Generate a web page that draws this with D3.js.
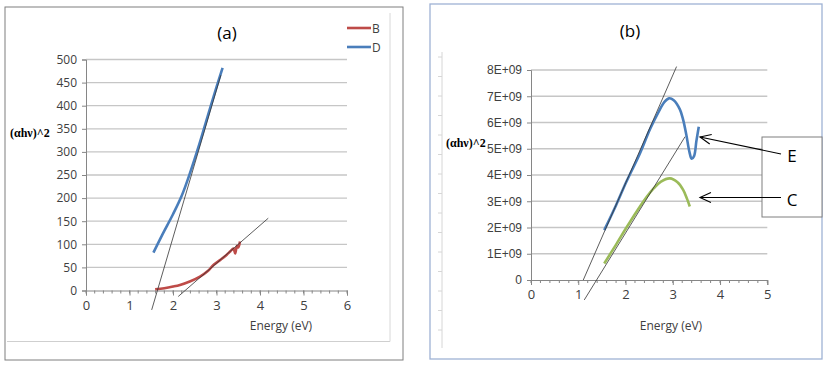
<!DOCTYPE html>
<html>
<head>
<meta charset="utf-8">
<script src="https://cdn.jsdelivr.net/npm/d3@7"></script>
<style>
  body { margin: 0; background: #fff; }
  text { font-family: "Open Sans", "Liberation Sans", sans-serif; }
</style>
</head>
<body>
<svg id="chart" width="827" height="366"></svg>
<script>
// ---- panel (a) data ----
const aXTicks = [0, 1, 2, 3, 4, 5, 6];
const aYTicks = [0, 50, 100, 150, 200, 250, 300, 350, 400, 450, 500];
const dEnergy = [1.55, 1.75, 2.0, 2.2, 2.39, 2.6, 2.8, 3.0, 3.14];
const dValues = [82, 120, 165, 205, 254, 315, 378, 440, 482];
const bEnergy = [1.59, 1.8, 2.0, 2.16, 2.4, 2.62, 2.8, 2.93, 3.1, 3.23, 3.32, 3.39, 3.43, 3.47, 3.5, 3.54];
const bValues = [2.6, 5, 8.5, 12, 20, 30, 42, 55, 67, 77, 85, 91, 80, 97, 93, 106];
const dFitE = [1.51, 3.1];
const dFitV = [-42, 466];
const bFitE = [2.12, 4.19];
const bFitV = [-13, 156.5];

// ---- panel (b) data ----
const bXTicks = [0, 1, 2, 3, 4, 5];
const bYTicks = [0, 1e9, 2e9, 3e9, 4e9, 5e9, 6e9, 7e9, 8e9];
const bYLabels = ['0', '1E+09', '2E+09', '3E+09', '4E+09', '5E+09', '6E+09', '7E+09', '8E+09'];
const eEnergy = [1.55, 1.8, 2.02, 2.3, 2.52, 2.7, 2.82, 2.92, 3.02, 3.15, 3.22, 3.29, 3.35, 3.4, 3.45, 3.5, 3.55];
const eValues = [1.9e9, 2.85e9, 3.75e9, 4.8e9, 5.75e9, 6.4e9, 6.78e9, 6.92e9, 6.85e9, 6.5e9, 6.1e9, 5.5e9, 4.9e9, 4.62e9, 4.72e9, 5.3e9, 5.84e9];
const cEnergy = [1.55, 1.8, 2.02, 2.25, 2.45, 2.6, 2.75, 2.94, 3.1, 3.22, 3.3, 3.36];
const cValues = [0.63e9, 1.35e9, 2.0e9, 2.65e9, 3.17e9, 3.5e9, 3.75e9, 3.87e9, 3.72e9, 3.43e9, 3.1e9, 2.8e9];
const eFitE = [1.106, 3.08];
const eFitV = [0, 8.13e9];
const cFitE = [1.127, 3.26];
const cFitV = [-0.76e9, 5.46e9];

const svg = d3.select('#chart');
const gridColor = '#c6c6c6';
const axisColor = '#868686';
const labelColor = '#404040';

function drawPanel(cfg) {
  const x = d3.scaleLinear().domain(cfg.xDomain).range(cfg.xRange);
  const y = d3.scaleLinear().domain(cfg.yDomain).range(cfg.yRange);
  const g = svg.append('g');

  // gridlines
  g.selectAll('.grid')
    .data(cfg.yTicks.slice(1))
    .enter()
    .append('line')
    .attr('x1', cfg.xRange[0]).attr('x2', cfg.xRange[1])
    .attr('y1', d => y(d)).attr('y2', d => y(d))
    .attr('stroke', gridColor).attr('stroke-width', 1.3);

  // y axis
  const yAxis = g.append('g')
    .attr('transform', 'translate(' + cfg.xRange[0] + ',0)')
    .call(d3.axisLeft(y).tickValues(cfg.yTicks).tickSize(4).tickPadding(5)
      .tickFormat((d, i) => cfg.yLabels ? cfg.yLabels[i] : d));
  yAxis.select('.domain').attr('stroke', axisColor);
  yAxis.selectAll('line').attr('stroke', axisColor);
  yAxis.selectAll('text').style('font-family', cfg.tickFont).style('font-size', '12px').attr('fill', labelColor);

  // x axis minor ticks
  const minor = d3.range(cfg.xDomain[0], cfg.xDomain[1] + 0.001, 0.2);
  g.selectAll('.minor')
    .data(minor)
    .enter()
    .append('line')
    .attr('x1', d => x(d)).attr('x2', d => x(d))
    .attr('y1', y(0)).attr('y2', y(0) + 3)
    .attr('stroke', axisColor);

  const xAxis = g.append('g')
    .attr('transform', 'translate(0,' + y(0) + ')')
    .call(d3.axisBottom(x).tickValues(cfg.xTicks).tickSize(5).tickPadding(5).tickFormat(d3.format('d')));
  xAxis.select('.domain').attr('stroke', axisColor);
  xAxis.selectAll('line').attr('stroke', axisColor);
  xAxis.selectAll('text').style('font-size', '13px').attr('fill', labelColor);

  const line = d3.line()
    .x(d => x(d[0]))
    .y(d => y(d[1]))
    .curve(d3.curveCatmullRom);

  cfg.series.forEach(s => {
    g.append('path')
      .datum(d3.zip(s.e, s.v))
      .attr('d', line)
      .attr('fill', 'none')
      .attr('stroke', s.color)
      .attr('stroke-width', 2.6)
      .attr('stroke-linejoin', 'round');
  });

  cfg.fits.forEach(f => {
    g.append('line')
      .attr('x1', x(f.e[0])).attr('y1', y(f.v[0]))
      .attr('x2', x(f.e[1])).attr('y2', y(f.v[1]))
      .attr('stroke', '#333').attr('stroke-width', 0.8);
  });

  g.append('text')
    .attr('x', cfg.titleX).attr('y', cfg.titleY)
    .attr('text-anchor', 'middle')
    .style('font-size', '17px')
    .text(cfg.title);

  g.append('text')
    .attr('x', cfg.xLabelX).attr('y', cfg.xLabelY)
    .attr('text-anchor', 'middle')
    .style('font-size', '12px')
    .attr('fill', labelColor)
    .text('Energy (eV)');

  g.append('text')
    .attr('x', cfg.yLabelX).attr('y', cfg.yLabelY)
    .style('font-family', '"Liberation Serif", serif')
    .style('font-weight', 'bold')
    .style('font-size', '12px')
    .text('(αhν)^2');
}

// ---- frames ----
svg.append('rect').attr('x', 5).attr('y', 7).attr('width', 398).attr('height', 353)
  .attr('fill', 'none').attr('stroke', '#7f7f7f').attr('stroke-width', 1);
svg.append('line').attr('x1', 7).attr('x2', 390).attr('y1', 341.5).attr('y2', 341.5)
  .attr('stroke', '#cfcfcf');
svg.append('line').attr('x1', 390).attr('x2', 390).attr('y1', 13).attr('y2', 341.5)
  .attr('stroke', '#d8d8d8');

svg.append('rect').attr('x', 430).attr('y', 4).attr('width', 392).attr('height', 355)
  .attr('fill', 'none').attr('stroke', '#9fb2d4').attr('stroke-width', 1.3);
svg.append('line').attr('x1', 442).attr('x2', 442).attr('y1', 52).attr('y2', 348)
  .attr('stroke', '#d6d6d6');
svg.selectAll('.edgeTick')
  .data(d3.range(57, 348, 19.5))
  .enter()
  .append('line')
  .attr('x1', 438).attr('x2', 442)
  .attr('y1', d => d).attr('y2', d => d)
  .attr('stroke', '#d6d6d6');

drawPanel({
  xDomain: [0, 6], xRange: [86, 347],
  yDomain: [0, 500], yRange: [290.5, 59.5],
  xTicks: aXTicks, yTicks: aYTicks,
  tickFont: '"Open Sans", sans-serif',
  series: [
    { e: dEnergy, v: dValues, color: '#4a7ebb' },
    { e: bEnergy, v: bValues, color: '#be4b48' }
  ],
  fits: [{ e: dFitE, v: dFitV }, { e: bFitE, v: bFitV }],
  title: '(a)', titleX: 227, titleY: 39,
  xLabelX: 281, xLabelY: 330,
  yLabelX: 10, yLabelY: 137
});

drawPanel({
  xDomain: [0, 5], xRange: [531, 767.3],
  yDomain: [0, 8e9], yRange: [280, 70],
  xTicks: bXTicks, yTicks: bYTicks, yLabels: bYLabels,
  tickFont: '"Liberation Sans Narrow", "Liberation Sans", sans-serif',
  series: [
    { e: eEnergy, v: eValues, color: '#4a7ebb' },
    { e: cEnergy, v: cValues, color: '#9bbb59' }
  ],
  fits: [{ e: eFitE, v: eFitV }, { e: cFitE, v: cFitV }],
  title: '(b)', titleX: 630, titleY: 37,
  xLabelX: 671, xLabelY: 330,
  yLabelX: 446, yLabelY: 147
});

// ---- legend (a) ----
const legendItems = [{ name: 'B', color: '#be4b48', y: 28 }, { name: 'D', color: '#4a7ebb', y: 47 }];
legendItems.forEach(l => {
  svg.append('line').attr('x1', 347).attr('x2', 371).attr('y1', l.y).attr('y2', l.y)
    .attr('stroke', l.color).attr('stroke-width', 2.6);
  svg.append('text').attr('x', 372).attr('y', l.y + 4.5)
    .style('font-size', '12px').attr('fill', labelColor).text(l.name);
});

// ---- annotation box (b) ----
svg.append('rect').attr('x', 762).attr('y', 137).attr('width', 60).attr('height', 80)
  .attr('fill', '#fff').attr('stroke', '#7f7f7f').attr('stroke-width', 1);

const notes = [
  { name: 'E', x1: 781, y1: 154, x2: 700, y2: 137, ty: 162 },
  { name: 'C', x1: 781, y1: 197.5, x2: 700, y2: 197.5, ty: 206 }
];
notes.forEach(n => {
  svg.append('line').attr('x1', n.x1).attr('y1', n.y1).attr('x2', n.x2).attr('y2', n.y2)
    .attr('stroke', '#000').attr('stroke-width', 1.1);
  const ang = Math.atan2(n.y1 - n.y2, n.x1 - n.x2);
  const len = 12, spread = 0.42;
  const p1 = [n.x2 + len * Math.cos(ang - spread), n.y2 + len * Math.sin(ang - spread)];
  const p2 = [n.x2 + len * Math.cos(ang + spread), n.y2 + len * Math.sin(ang + spread)];
  svg.append('path')
    .attr('d', 'M' + p1 + 'L' + [n.x2, n.y2] + 'L' + p2)
    .attr('fill', 'none').attr('stroke', '#000').attr('stroke-width', 1.1);
  svg.append('text').attr('x', 792).attr('y', n.ty)
    .attr('text-anchor', 'middle')
    .style('font-size', '17px')
    .text(n.name);
});
</script>
</body>
</html>
